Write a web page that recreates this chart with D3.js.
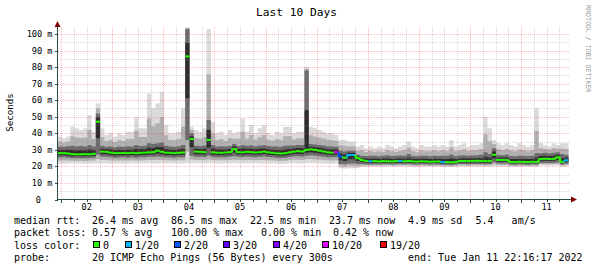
<!DOCTYPE html>
<html>
<head>
<meta charset="utf-8">
<script src="https://cdn.jsdelivr.net/npm/d3@7.9.0/dist/d3.min.js"></script>
<style>
  body { margin: 0; background: #fff; }
  svg { display: block; }
  text { font-family: "DejaVu Sans Mono", monospace; fill: #000; white-space: pre; }
</style>
</head>
<body>
<svg id="chart" width="595" height="269"></svg>
<script>
// 10 days ending here, one sample every 2 hours (ms)
const endTime = new Date(2022, 0, 11, 22, 16, 17);
const stepHours = 2;

const med = [
  28.0,28.0,27.8,27.4,27.3,27.3,27.4,27.3,27.6,47.0,
  28.9,28.8,28.3,28.0,28.0,28.1,28.0,28.2,28.0,28.2,
  28.3,28.5,28.6,29.5,28.8,28.3,28.2,28.0,28.2,28.4,
  86.5,36.5,28.9,28.8,28.6,36.0,28.5,28.3,28.2,28.4,
  28.6,30.5,28.6,28.5,28.8,28.6,28.4,28.6,28.9,28.5,
  28.2,27.9,27.8,28.0,28.5,28.9,29.2,29.0,30.0,30.3,
  30.0,29.5,29.0,28.5,28.3,28.6,25.9,25.3,26.9,26.9,
  25.0,23.8,23.3,23.1,23.2,23.0,23.2,23.1,23.0,23.2,
  23.3,23.1,23.3,23.0,22.9,23.1,23.0,22.8,22.9,23.0,
  22.6,22.6,22.5,22.7,23.3,23.3,23.2,23.3,23.4,23.3,
  23.2,23.3,27.0,23.9,23.9,23.8,22.7,22.6,22.8,22.7,
  22.6,22.8,22.7,24.5,24.6,24.5,24.6,25.5,22.8,23.7
];

// smoke: fastest ping, lower/upper quartile, slowest ping
const lo = [
  21.8,21.6,21.8,21.9,21.7,21.8,21.6,21.8,21.9,21.8,
  21.8,21.9,21.7,21.8,21.8,21.6,21.8,21.9,21.8,21.7,
  21.8,21.9,21.8,21.8,21.7,21.8,21.9,21.8,21.8,21.7,
  22.0,21.8,21.9,21.8,21.7,21.8,21.9,21.8,21.8,21.7,
  21.8,21.9,21.8,21.8,21.7,21.8,21.9,21.8,21.8,21.6,
  21.7,21.6,21.5,21.6,21.8,21.9,21.8,21.8,22.0,22.0,
  21.9,21.8,21.8,21.7,21.6,21.7,18.8,18.7,18.9,18.8,
  19.0,19.8,19.9,20.0,19.9,19.8,19.9,20.0,19.9,19.8,
  19.9,20.0,19.9,19.8,19.7,19.9,19.9,19.8,19.8,19.9,
  19.7,19.7,19.6,19.8,19.9,20.0,19.9,19.9,20.0,19.9,
  19.9,20.0,20.2,20.1,20.0,20.0,19.8,19.7,19.8,19.8,
  19.7,19.8,19.8,20.5,20.6,20.5,20.6,20.6,20.0,20.1
];

const q1 = [
  25.4,25.5,25.2,25.0,24.9,25.0,25.0,24.9,25.2,27.0,
  25.8,25.8,25.5,25.3,25.4,25.5,25.3,25.5,25.3,25.5,
  25.6,25.8,25.8,26.0,25.9,25.6,25.5,25.3,25.5,25.6,
  36.0,26.5,25.9,25.8,25.7,26.5,25.7,25.5,25.5,25.6,
  25.8,26.2,25.8,25.7,25.9,25.8,25.6,25.8,26.0,25.7,
  25.5,25.2,25.1,25.3,25.7,26.0,26.2,26.0,26.5,26.8,
  26.5,26.2,25.9,25.6,25.5,25.7,21.5,21.3,21.8,21.8,
  21.5,21.4,21.3,21.2,21.3,21.2,21.3,21.3,21.2,21.3,
  21.4,21.3,21.4,21.2,21.1,21.3,21.2,21.1,21.2,21.2,
  21.0,21.0,20.9,21.1,21.4,21.4,21.3,21.4,21.5,21.4,
  21.3,21.4,22.5,21.8,21.8,21.7,21.1,21.0,21.2,21.1,
  21.0,21.2,21.1,22.0,22.1,22.0,22.1,22.4,21.2,21.6
];

const q3 = [
  32.0,31.8,32.2,32.5,32.0,32.3,32.0,33.0,32.0,52.0,
  32.5,31.8,32.0,31.6,32.0,31.8,32.2,32.0,33.0,32.4,
  32.5,34.0,33.5,34.0,34.5,32.5,32.0,31.8,32.2,33.0,
  103.0,40.0,32.5,32.3,32.6,48.0,33.0,32.0,32.2,32.0,
  32.4,33.5,32.3,33.0,32.5,32.8,32.2,32.6,32.8,32.3,
  32.0,32.0,31.8,32.5,32.6,32.6,33.0,33.0,78.0,33.5,
  33.2,33.0,32.6,32.2,32.0,31.8,29.5,29.0,29.5,29.5,
  27.0,26.5,26.3,26.5,26.4,26.2,26.5,26.8,26.3,26.4,
  26.6,26.5,27.5,26.3,26.2,26.5,26.4,26.2,26.5,26.3,
  26.5,26.4,27.2,26.2,26.6,26.8,26.5,26.6,26.8,27.0,
  28.5,27.5,31.0,27.0,26.8,27.0,26.3,26.2,26.5,26.4,
  26.3,26.5,28.0,28.0,28.2,28.0,28.3,28.5,27.5,27.0
];

const hi = [
  38,37,38,44,43,42,43,51,41,58,
  43,39,40,38,40,39,41,41,50,43,
  43,64,55,58,65,45,40,40,41,55,
  104,44,42,41,43,103,47,40,41,39,
  42,40,41,49,41,45,40,43,45,40,
  39,41,40,44,44,40,41,41,80,44,
  43,42,41,40,40,39,36,36,35,35,
  32,33,31,32,31,32,31,33,32,31,
  32,33,35,32,31,33,32,32,33,32,
  33,32,36,32,33,34,32,33,33,34,
  50,43,36,34,33,34,33,32,34,33,
  32,33,55,34,33,32,34,33,34,34
];

// lost pings out of 20
const loss = [
  0,0,0,0,0,0,0,0,0,0,
  0,0,0,0,0,0,0,0,0,0,
  0,0,0,0,0,0,0,0,0,0,
  0,0,0,0,0,0,0,0,0,0,
  0,0,0,0,0,0,0,0,0,0,
  0,0,0,0,0,0,0,0,0,0,
  0,0,0,0,0,10,2,0,1,1,
  0,0,0,1,0,0,0,0,0,0,
  1,0,0,0,0,0,0,0,0,0,
  1,0,0,0,0,0,0,0,0,0,
  0,0,0,0,0,0,0,0,0,0,
  0,0,0,0,0,0,0,0,0,1
];

const lossLabels = ['0', '1/20', '2/20', '3/20', '4/20', '10/20', '19/20'];
const lossMin = [0, 1, 2, 3, 4, 10, 19];
const lossColors = ['#26ff00', '#00b8ff', '#0059ff', '#5e00ff', '#7e00ff', '#dd00ff', '#ff0000'];

const yTicks = [0, 10, 20, 30, 40, 50, 60, 70, 80, 90, 100];

const rttStats = ['26.4 ms avg', '86.5 ms max', '22.5 ms min', '23.7 ms now', '4.9 ms sd', '5.4   am/s'];
const lossStats = ['0.57 % avg', '100.00 % max', '0.00 % min', '0.42 % now'];
const probeText = '20 ICMP Echo Pings (56 Bytes) every 300s';

// ---------------------------------------------------------------

const svg = d3.select('#chart');
const startTime = d3.timeDay.offset(endTime, -10);
const x = d3.scaleTime().domain([startTime, endTime]).range([57.5, 568.5]);
const y = d3.scaleLinear().domain([0, 100]).range([199.5, 34]);
const plotTop = 27;

let rows = med.map((m, i) => ({
  t: d3.timeHour.offset(startTime, i * stepHours),
  med: m, lo: lo[i], q1: q1[i], q3: q3[i], hi: hi[i], loss: loss[i]
}));
rows.push({ ...rows[rows.length - 1], t: endTime });

const mix = (a, b, f) => a + (b - a) * f;

// smoke layers, lightest (outer pings) first
const layers = [
  { c: '#dadada', a: d => d.lo, b: d => d.hi },
  { c: '#b0b0b0', a: d => mix(d.lo, d.q1, 0.5), b: d => mix(d.hi, d.q3, 0.5) },
  { c: '#6c6c6c', a: d => d.q1, b: d => d.q3 },
  { c: '#2e2e2e', a: d => mix(d.q1, d.med, 0.5), b: d => mix(d.q3, d.med, 0.5) }
];

layers.forEach(l => {
  svg.append('path')
    .attr('d', d3.area()
      .curve(d3.curveStepAfter)
      .x(d => x(d.t))
      .y0(d => y(l.a(d)))
      .y1(d => Math.max(plotTop, y(l.b(d))))(rows))
    .attr('fill', l.c);
});

// grid on top of the smoke
const grid = svg.append('g').attr('shape-rendering', 'crispEdges');
const x0 = x.range()[0], x1 = x.range()[1];

d3.range(5, 101, 5).forEach(v => {
  let major = v % 10 === 0;
  grid.append('line')
    .attr('x1', x0).attr('x2', x1)
    .attr('y1', Math.round(y(v)) + 0.5).attr('y2', Math.round(y(v)) + 0.5)
    .attr('stroke', major ? '#ff2020' : '#909090')
    .attr('stroke-opacity', major ? 0.3 : 0.35)
    .attr('stroke-dasharray', '1,1');
});

d3.timeHour.every(6).range(startTime, endTime).forEach(t => {
  let major = t.getHours() === 0;
  let px = Math.round(x(t)) + 0.5;
  grid.append('line')
    .attr('x1', px).attr('x2', px)
    .attr('y1', y(0)).attr('y2', plotTop)
    .attr('stroke', major ? '#ff2020' : '#909090')
    .attr('stroke-opacity', major ? 0.3 : 0.35)
    .attr('stroke-dasharray', '1,1');
  grid.append('line')
    .attr('x1', px).attr('x2', px)
    .attr('y1', y(0)).attr('y2', y(0) + (major ? 3 : 2))
    .attr('stroke', '#2c4d43');
});

// median: one flat piece per sample, coloured by loss,
// joined to the next piece only when the step is small
function lossColor(n) {
  let k = 0;
  lossMin.forEach((m, i) => { if (n >= m) k = i; });
  return lossColors[k];
}

const medG = svg.append('g').attr('stroke-width', 2).attr('fill', 'none');
rows.slice(0, -1).forEach((d, i) => {
  let xa = x(d.t), xb = x(rows[i + 1].t);
  let c = lossColor(d.loss);
  medG.append('line')
    .attr('x1', xa).attr('x2', xb)
    .attr('y1', y(d.med)).attr('y2', y(d.med))
    .attr('stroke', c);
  if (i > 0 && Math.abs(d.med - rows[i - 1].med) < 3) {
    medG.append('line')
      .attr('x1', xa).attr('x2', xa)
      .attr('y1', y(rows[i - 1].med)).attr('y2', y(d.med))
      .attr('stroke', c);
  }
});

// axes
const axis = svg.append('g').attr('shape-rendering', 'crispEdges');
axis.append('line')
  .attr('x1', 57.5).attr('x2', 57.5).attr('y1', y(0) + 0.5).attr('y2', 24)
  .attr('stroke', '#2c4d43');
axis.append('line')
  .attr('x1', 57).attr('x2', 573).attr('y1', 199.5).attr('y2', 199.5)
  .attr('stroke', '#2c4d43');
svg.append('path').attr('d', 'M57.5,21 L54.5,27 L60.5,27 Z').attr('fill', '#7f0000');
svg.append('path').attr('d', 'M577,199.5 L571,196.5 L571,202.5 Z').attr('fill', '#7f0000');

yTicks.forEach(v => {
  axis.append('line')
    .attr('x1', 54.5).attr('x2', 57.5)
    .attr('y1', Math.round(y(v)) + 0.5).attr('y2', Math.round(y(v)) + 0.5)
    .attr('stroke', '#2c4d43');
  svg.append('text')
    .attr('x', v === 0 ? 41 : 52.5)
    .attr('y', y(v) + 3)
    .attr('text-anchor', 'end')
    .attr('font-size', '8.6px')
    .text(v === 0 ? '0' : v + ' m');
});

const dayFmt = d3.timeFormat('%d');
d3.timeDay.range(startTime, endTime).forEach(t => {
  let noon = d3.timeHour.offset(t, 12);
  if (noon < endTime && noon > startTime) {
    svg.append('text')
      .attr('x', x(noon)).attr('y', 209.5)
      .attr('text-anchor', 'middle')
      .attr('font-size', '8.6px')
      .text(dayFmt(noon));
  }
});

// titles
svg.append('text')
  .attr('x', 296.5).attr('y', 16)
  .attr('text-anchor', 'middle')
  .attr('font-size', '11.2px')
  .text('Last 10 Days');

svg.append('text')
  .attr('transform', 'translate(13,112.5) rotate(-90)')
  .attr('text-anchor', 'middle')
  .attr('font-family', '"DejaVu Sans", sans-serif')
  .attr('font-size', '9.2px')
  .text('Seconds');

svg.append('text')
  .attr('transform', 'translate(585.5,5) rotate(90)')
  .attr('font-size', '6.6px')
  .style('fill', '#999')
  .text('RRDTOOL / TOBI OETIKER');

// legend
const lg = svg.append('g').attr('font-size', '10px');
const rowY = [224.2, 236.4, 248.6, 260.8];

lg.append('text').attr('x', 14).attr('y', rowY[0]).text('median rtt:');
[92, 171, 250, 329, 408, 475.5].forEach((px, i) => {
  lg.append('text').attr('x', px).attr('y', rowY[0]).text(rttStats[i]);
});

lg.append('text').attr('x', 14).attr('y', rowY[1]).text('packet loss:');
[92, 171, 261, 333].forEach((px, i) => {
  lg.append('text').attr('x', px).attr('y', rowY[1]).text(lossStats[i]);
});

lg.append('text').attr('x', 14).attr('y', rowY[2]).text('loss color:');
[93, 125, 174, 223, 273, 322, 380].forEach((px, i) => {
  lg.append('rect')
    .attr('x', px + 0.5).attr('y', 241.5)
    .attr('width', 6).attr('height', 6)
    .attr('fill', lossColors[i])
    .attr('stroke', '#000');
  lg.append('text').attr('x', px + 10).attr('y', rowY[2]).text(lossLabels[i]);
});

lg.append('text').attr('x', 14).attr('y', rowY[3]).text('probe:');
lg.append('text').attr('x', 92).attr('y', rowY[3]).text(probeText);
lg.append('text').attr('x', 408).attr('y', rowY[3])
  .text('end: ' + d3.timeFormat('%a %b %d %H:%M:%S %Y')(endTime));
</script>
</body>
</html>
